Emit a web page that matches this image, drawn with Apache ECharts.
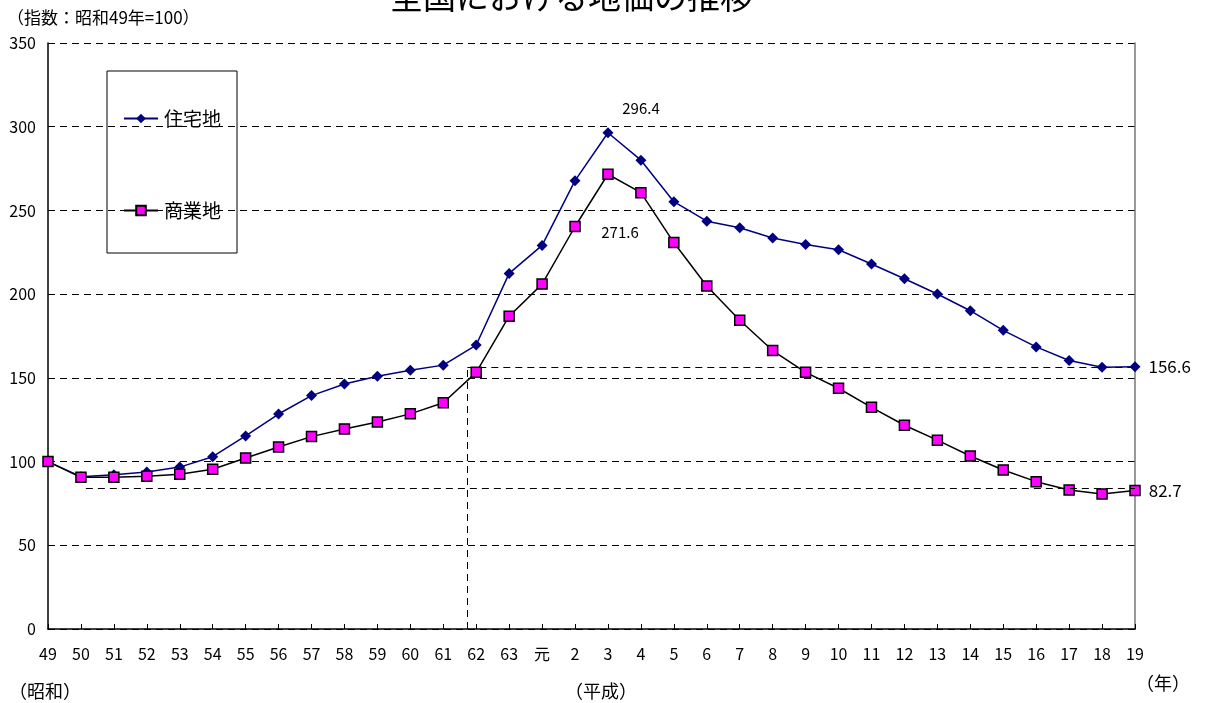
<!DOCTYPE html>
<html><head><meta charset="utf-8">
<script src="https://cdn.jsdelivr.net/npm/echarts@6/dist/echarts.min.js"></script>
<style>html,body{margin:0;padding:0;background:#fff}#c{width:1208px;height:703px}</style>
</head><body><div id="c"></div>
<script>
const titleText = '全国における地価の推移';
const unitText = '（指数：昭和49年=100）';
const categories = ['49','50','51','52','53','54','55','56','57','58','59','60','61','62','63','元','2','3','4','5','6','7','8','9','10','11','12','13','14','15','16','17','18','19'];
const residential = [100,91.0,92.2,93.8,96.7,102.9,115.3,128.4,139.4,146.3,151.0,154.5,157.6,169.6,212.4,229.1,267.8,296.4,280.0,255.2,243.6,239.6,233.5,229.7,226.5,218.0,209.2,200.1,190.1,178.4,168.5,160.4,156.3,156.6];
const commercial = [100,90.6,90.7,91.2,92.4,95.4,102.1,108.7,114.9,119.5,123.6,128.5,135.1,153.3,186.8,206.0,240.4,271.6,260.6,230.8,204.9,184.4,166.3,153.3,143.8,132.4,121.7,112.8,103.3,95.0,88.0,83.0,80.7,82.7];
const labelledRes = [17, 33];
const labelledCom = [17, 33];
const refVertX = 12.73;      // position between 61 and 62 on category index scale
const refLineHigh = 156.6;
const refLineLow = 84;
const refLowStartX = 1.15;

const FONT = "'Noto Sans CJK JP',sans-serif";
const JFONT = "'Noto Sans CJK JP',sans-serif";

function buildData(vals, labelled, labelCfg) {
  return vals.map((v, i) => {
    const idx = labelled.indexOf(i);
    if (idx >= 0) return { value: v, label: Object.assign({ show: true, formatter: (p) => p.value.toFixed(1) }, labelCfg[idx]) };
    return v;
  });
}

const chart = echarts.init(document.getElementById('c'), null, { renderer: 'canvas' });
chart.setOption({
  animation: false,
  textStyle: { fontFamily: FONT },
  title: [
    { text: titleText, left: 385, top: -25, textStyle: { fontFamily: JFONT, fontSize: 33, fontWeight: 'normal', color: '#000' } },
    { text: unitText, left: 2, top: 4, textStyle: { fontFamily: FONT, fontSize: 17, fontWeight: 'normal', color: '#000' } },
    { text: '（昭和）', left: 4, top: 677, textStyle: { fontFamily: FONT, fontSize: 18, fontWeight: 'normal', color: '#000' } },
    { text: '（平成）', left: 560, top: 677, textStyle: { fontFamily: FONT, fontSize: 18, fontWeight: 'normal', color: '#000' } },
    { text: '（年）', left: 1131, top: 669, textStyle: { fontFamily: FONT, fontSize: 18, fontWeight: 'normal', color: '#000' } }
  ],
  legend: {
    orient: 'vertical', left: 107, top: 71,
    padding: [38, 16, 33, 16],
    itemGap: 73, itemWidth: 34, itemHeight: 12,
    borderColor: '#000', borderWidth: 1,
    textStyle: { fontFamily: JFONT, fontSize: 19, lineHeight: 19, color: '#000', padding: [0, 0, 0, 1] },
    data: ['住宅地', '商業地']
  },
  grid: { left: 48, right: 73, top: 43, bottom: 74, containLabel: false },
  xAxis: [
    {
      type: 'category', data: categories, boundaryGap: false,
      axisLine: { lineStyle: { color: '#000', width: 1.5 } },
      axisTick: { inside: true, length: 5, lineStyle: { color: '#000' } },
      axisLabel: { color: '#000', fontSize: 16, margin: 17, fontFamily: FONT, interval: 0 },
      splitLine: { show: false }
    },
    { type: 'value', min: 0, max: categories.length - 1, show: false }
  ],
  yAxis: [
    {
      type: 'value', min: 0, max: 350, interval: 50,
      axisLine: { show: true, lineStyle: { color: '#000', width: 1.5 } },
      axisTick: { show: false },
      axisLabel: { color: '#000', fontSize: 16, margin: 12, fontFamily: FONT },
      splitLine: { show: true, lineStyle: { color: '#000', type: [7, 5], width: 1 } }
    },
    {
      type: 'value', min: 0, max: 350, interval: 50, position: 'right',
      axisLine: { show: true, lineStyle: { color: '#777', width: 1.5 } },
      axisTick: { show: false }, axisLabel: { show: false }, splitLine: { show: false }
    }
  ],
  series: [
    {
      name: '住宅地', type: 'line', xAxisIndex: 0, yAxisIndex: 0,
      data: buildData(residential, labelledRes, [
        { position: 'top', offset: [33, -6], fontSize: 15, color: '#000', fontFamily: FONT },
        { position: 'right', distance: 8, fontSize: 17, color: '#000', fontFamily: FONT }
      ]),
      symbol: 'diamond', symbolSize: 11,
      itemStyle: { color: '#000080' },
      lineStyle: { color: '#000080', width: 1.5 },
      z: 3
    },
    {
      name: '商業地', type: 'line', xAxisIndex: 0, yAxisIndex: 0,
      data: buildData(commercial, labelledCom, [
        { position: 'bottom', offset: [12, 40], fontSize: 15, color: '#000', fontFamily: FONT },
        { position: 'right', distance: 8, fontSize: 17, color: '#000', fontFamily: FONT }
      ]),
      symbol: 'rect', symbolSize: 10,
      itemStyle: { color: '#ff00ff', borderColor: '#000', borderWidth: 1.5 },
      lineStyle: { color: '#000', width: 1.5 },
      z: 4
    },
    {
      name: 'ref', type: 'line', xAxisIndex: 1, yAxisIndex: 0, data: [],
      silent: true,
      markLine: {
        symbol: 'none', silent: true, animation: false,
        label: { show: false },
        lineStyle: { color: '#000', type: [7, 5], width: 1 },
        data: [
          [{ coord: [refVertX, refLineHigh] }, { coord: [categories.length - 1, refLineHigh] }],
          [{ coord: [refVertX, 0] }, { coord: [refVertX, refLineHigh] }],
          [{ coord: [refLowStartX, refLineLow] }, { coord: [categories.length - 1, refLineLow] }]
        ]
      }
    }
  ]
});
</script>
</body></html>
